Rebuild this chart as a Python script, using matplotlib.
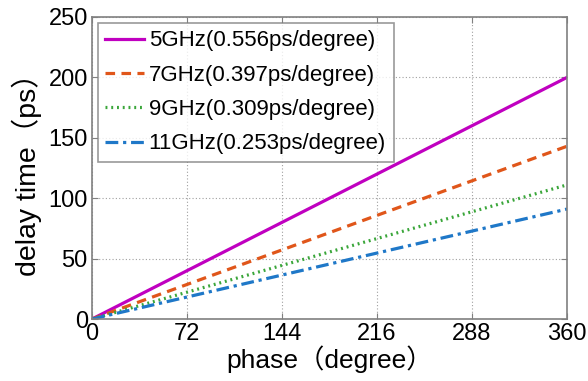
import matplotlib.pyplot as plt

plt.rcParams['font.family'] = ['Liberation Sans', 'Noto Sans CJK SC', 'DejaVu Sans']

# phase (degree) endpoints and delay (ps)
phase = [0, 360]
delay_5g = [0, 200]
delay_7g = [0, 143]
delay_9g = [0, 111]
delay_11g = [0, 91]

labels = ["5GHz(0.556ps/degree)", "7GHz(0.397ps/degree)",
          "9GHz(0.309ps/degree)", "11GHz(0.253ps/degree)"]
xticks = [0, 72, 144, 216, 288, 360]
yticks = [0, 50, 100, 150, 200, 250]

fig = plt.figure(figsize=(5.88, 3.81), dpi=100)
ax = fig.add_axes([0.1565, 0.1627, 0.8078, 0.7927])

ax.plot(phase, delay_5g, color="#c000c0", lw=2.3, ls="-", label=labels[0])
ax.plot(phase, delay_7g, color="#e0561a", lw=2.3, ls=(0, (3, 2)), label=labels[1])
ax.plot(phase, delay_9g, color="#3aa63a", lw=2.3, ls=(0, (0.6, 1.2)), label=labels[2])
ax.plot(phase, delay_11g, color="#1f78c8", lw=2.3, ls=(0, (4, 1.5, 1, 1.5)), label=labels[3])

ax.set_xlim(0, 360)
ax.set_ylim(0, 250)
ax.set_xticks(xticks)
ax.set_yticks(yticks)
ax.tick_params(direction="in", labelsize=17, length=4, color="#808080",
               top=True, right=True, pad=3)
ax.grid(True, ls=(0, (1, 2)), color="#a0a0a0", lw=0.8)
for s in ax.spines.values():
    s.set_color("#808080")
    s.set_linewidth(1.2)

ax.set_xlabel("phase（degree）", fontsize=19, labelpad=0)
ax.set_ylabel("delay time（ps）", fontsize=20.5, labelpad=5)

leg = ax.legend(loc="upper left", prop={"size": 16},
                fancybox=False, edgecolor="#808080", handlelength=1.75,
                handletextpad=0.2, borderaxespad=0.25, borderpad=0.35,
                labelspacing=0.6)
leg.get_frame().set_linewidth(1.2)

plt.savefig("out.png", dpi=100)
